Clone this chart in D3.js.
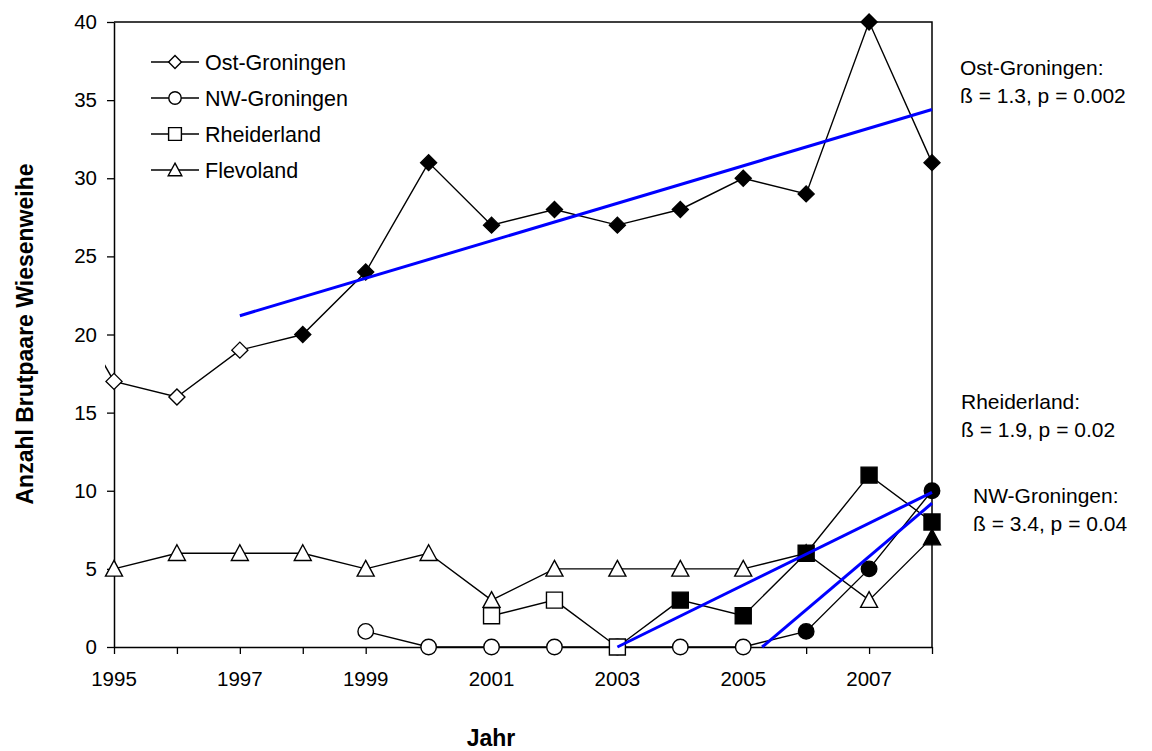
<!DOCTYPE html>
<html>
<head>
<meta charset="utf-8">
<script src="https://cdn.jsdelivr.net/npm/d3@7/dist/d3.min.js"></script>
<style>
  html, body { margin: 0; padding: 0; background: #fff; }
  svg { display: block; font-family: "Liberation Sans", Arial, sans-serif; }
</style>
</head>
<body>
<svg id="chart" width="1152" height="751"></svg>
<script>
// Breeding pairs of Montagu's harrier per region and year
const years = [1994, 1995, 1996, 1997, 1998, 1999, 2000, 2001, 2002, 2003, 2004, 2005, 2006, 2007, 2008];

const ostGroningen = [24, 17, 16, 19, 20, 24, 31, 27, 28, 27, 28, 30, 29, 40, 31];
const nwGroningen  = [null, null, null, null, null, 1, 0, 0, 0, 0, 0, 0, 1, 5, 10];
const rheiderland  = [null, null, null, null, null, null, null, 2, 3, 0, 3, 2, 6, 11, 8];
const flevoland    = [null, 5, 6, 6, 6, 5, 6, 3, 5, 5, 5, 5, 6, 3, 7];

const seriesNames = ["Ost-Groningen", "NW-Groningen", "Rheiderland", "Flevoland"];
const seriesSymbols = ["diamond", "circle", "square", "triangle"];
// first year with filled markers for each region
const filledFrom = [1998, 2006, 2004, 2008];
// order in which the marker layers are stacked (last on top)
const markerOrder = [3, 0, 1, 2];

// Linear trends: start year, start value, end year, end value
const trendNames      = ["Ost-Groningen", "Rheiderland", "NW-Groningen"];
const trendStartYear  = [1997, 2003, 2005.3];
const trendStartValue = [21.2, 0, 0];
const trendEndYear    = [2008, 2008, 2008];
const trendEndValue   = [34.4, 9.9, 9.2];

const trendLabels = [
  ["Ost-Groningen:", "ß = 1.3, p = 0.002"],
  ["Rheiderland:",   "ß = 1.9, p = 0.02"],
  ["NW-Groningen:",  "ß = 3.4, p = 0.04"]
];

const xTickYears = [1995, 1997, 1999, 2001, 2003, 2005, 2007];
const yTickValues = [0, 5, 10, 15, 20, 25, 30, 35, 40];

const allSeries = [ostGroningen, nwGroningen, rheiderland, flevoland];

const svg = d3.select("#chart");
const plot = { left: 114, right: 932, top: 22, bottom: 647 };

const x = d3.scaleLinear().domain([1995, 2008]).range([plot.left, plot.right]);
const y = d3.scaleLinear().domain([0, 40]).range([plot.bottom, plot.top]);

// Frame: top and right border lines
svg.append("path")
  .attr("d", `M${plot.left},${plot.top}H${plot.right}V${plot.bottom}`)
  .attr("fill", "none").attr("stroke", "#000").attr("stroke-width", 1.5);

// X axis
const xAxis = svg.append("g")
  .attr("transform", `translate(0,${plot.bottom})`)
  .call(d3.axisBottom(x).tickValues(d3.range(1995, 2009)).tickSize(7).tickSizeOuter(0).tickFormat(""));
xAxis.select(".domain").attr("stroke-width", 1.5);
xAxis.selectAll(".tick line").attr("stroke-width", 1.3);
svg.append("g").selectAll("text").data(xTickYears).join("text")
  .attr("x", d => x(d)).attr("y", 686)
  .attr("text-anchor", "middle").attr("font-size", 20.5).text(d => d);

// Y axis
const yAxis = svg.append("g")
  .attr("transform", `translate(${plot.left},0)`)
  .call(d3.axisLeft(y).tickValues(yTickValues).tickSize(7).tickSizeOuter(0).tickPadding(10));
yAxis.select(".domain").attr("stroke-width", 1.5);
yAxis.selectAll(".tick line").attr("stroke-width", 1.3);
yAxis.selectAll(".tick text").attr("font-size", 20.5).attr("fill", "#000")
  .attr("font-family", "'Liberation Sans', Arial, sans-serif");

// Axis titles
svg.append("text")
  .attr("transform", "translate(33,334) rotate(-90)")
  .attr("text-anchor", "middle").attr("font-size", 23).attr("font-weight", "bold")
  .text("Anzahl Brutpaare Wiesenweihe");
svg.append("text")
  .attr("x", 491).attr("y", 746)
  .attr("text-anchor", "middle").attr("font-size", 23).attr("font-weight", "bold")
  .text("Jahr");

// Marker path generator
function markerPath(sym, s) {
  const h = s / 2;
  switch (sym) {
    case "diamond": return `M0,${-h}L${h},0L0,${h}L${-h},0Z`;
    case "circle": return `M${h},0A${h},${h} 0 1,1 ${-h},0A${h},${h} 0 1,1 ${h},0Z`;
    case "square": return `M${-h},${-h}H${h}V${h}H${-h}Z`;
    case "triangle": return `M0,${-h}L${h},${h * 0.85}H${-h}Z`;
  }
}
const markerSize = { diamond: 16, circle: 15.5, square: 16, triangle: 17 };

// Clip so the 1994 value only shows as a short stub left of the axis
svg.append("clipPath").attr("id", "plotClip")
  .append("rect").attr("x", 105).attr("y", 0).attr("width", 1000).attr("height", 751);

const line = d3.line()
  .defined(d => d.v !== null)
  .x(d => x(d.year)).y(d => y(d.v));

const seriesG = svg.append("g");
allSeries.forEach((vals, i) => {
  const pts = years.map((year, k) => ({ year, v: vals[k] }));
  seriesG.append("path")
    .datum(pts)
    .attr("clip-path", "url(#plotClip)")
    .attr("d", line)
    .attr("fill", "none").attr("stroke", "#000").attr("stroke-width", 1.4);
});
markerOrder.forEach(i => {
  const vals = allSeries[i];
  const pts = years.map((year, k) => ({ year, v: vals[k] }))
    .filter(d => d.v !== null && d.year >= 1995);
  const sym = seriesSymbols[i];
  seriesG.append("g").selectAll("path").data(pts).join("path")
    .attr("transform", d => `translate(${x(d.year)},${y(d.v)})`)
    .attr("d", markerPath(sym, markerSize[sym]))
    .attr("fill", d => d.year >= filledFrom[i] ? "#000" : "#fff")
    .attr("stroke", "#000").attr("stroke-width", 1.4);
});

// Trend lines
svg.append("g").selectAll("line").data(trendNames).join("line")
  .attr("x1", (d, i) => x(trendStartYear[i])).attr("y1", (d, i) => y(trendStartValue[i]))
  .attr("x2", (d, i) => x(trendEndYear[i])).attr("y2", (d, i) => y(trendEndValue[i]))
  .attr("stroke", "#0000ff").attr("stroke-width", 3);

// Trend annotations
const annotPos = [[960, 75], [961, 409], [973, 503]];
trendLabels.forEach((lines, i) => {
  const t = svg.append("text").attr("font-size", 21);
  lines.forEach((s, k) => {
    t.append("tspan").attr("x", annotPos[i][0]).attr("y", annotPos[i][1] + k * 28).text(s);
  });
});

// Legend
const legend = svg.append("g");
seriesNames.forEach((name, i) => {
  const cy = 62 + i * 36;
  legend.append("line").attr("x1", 151).attr("x2", 199).attr("y1", cy).attr("y2", cy)
    .attr("stroke", "#000").attr("stroke-width", 1.4);
  legend.append("path")
    .attr("transform", `translate(175,${cy})`)
    .attr("d", markerPath(seriesSymbols[i], markerSize[seriesSymbols[i]] * 0.8))
    .attr("fill", "#fff").attr("stroke", "#000").attr("stroke-width", 1.4);
  legend.append("text").attr("x", 205).attr("y", cy + 7.5)
    .attr("font-size", 21.5).text(name);
});
</script>
</body>
</html>
